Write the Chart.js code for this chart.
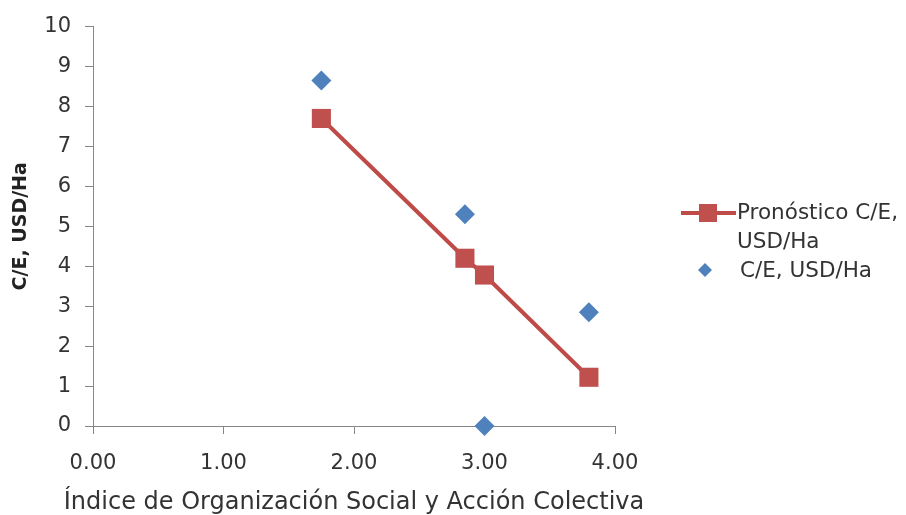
<!DOCTYPE html>
<html>
<head>
<meta charset="utf-8">
<script src="https://cdn.jsdelivr.net/npm/chart.js@4.4.1/dist/chart.umd.min.js"></script>
<style>
  body { margin: 0; background: #fff; }
  #wrap { width: 906px; height: 515px; }
</style>
</head>
<body>
<div id="wrap"><canvas id="can" width="906" height="515"></canvas></div>
<script>
// data
const idx = [1.75, 2.85, 3.0, 3.8];
const pronostico = [7.7, 4.2, 3.78, 1.22];
const observado = [8.65, 5.3, 0, 2.85];
const seriesNames = ["Pronóstico C/E, USD/Ha", "C/E, USD/Ha"];
const xTitle = "Índice de Organización Social y Acción Colectiva";
const yTitle = "C/E, USD/Ha";

const FONT = "'DejaVu Sans', sans-serif";
const red = "#BE4B48";
const redFill = "#C0504D";
const blue = "#4F81BD";
const axisCol = "#868686";
const textCol = "#333";

// legend + x title drawn by hand: the first label wraps, and the title is
// wider than the plot so chart.js would squeeze it
const sideLegend = {
  id: "sideLegend",
  afterDraw(chart) {
    const ctx = chart.ctx;
    ctx.save();
    ctx.textBaseline = "middle";
    ctx.font = "24px " + FONT;
    ctx.fillStyle = textCol;
    ctx.textAlign = "center";
    ctx.fillText(xTitle, 354, 503);
    ctx.textAlign = "left";
    ctx.font = "21.5px " + FONT;
    // line + square
    ctx.strokeStyle = red;
    ctx.lineWidth = 4;
    ctx.beginPath();
    ctx.moveTo(681, 213);
    ctx.lineTo(736, 213);
    ctx.stroke();
    ctx.fillStyle = redFill;
    ctx.fillRect(699, 204, 18, 18);
    ctx.fillStyle = textCol;
    ctx.fillText(seriesNames[0].split(" USD")[0], 737, 213);
    ctx.fillText("USD/Ha", 737, 242);
    // diamond
    ctx.fillStyle = blue;
    ctx.beginPath();
    ctx.moveTo(705, 263);
    ctx.lineTo(712, 270);
    ctx.lineTo(705, 277);
    ctx.lineTo(698, 270);
    ctx.closePath();
    ctx.fill();
    ctx.fillStyle = textCol;
    ctx.fillText(seriesNames[1], 740, 271);
    ctx.restore();
  }
};

const ctx = document.getElementById("can").getContext("2d");
new Chart(ctx, {
  type: "scatter",
  data: {
    datasets: [{
      label: seriesNames[0],
      data: idx.map((x, i) => ({ x: x, y: pronostico[i] })),
      showLine: true,
      borderColor: red,
      borderWidth: 4,
      backgroundColor: redFill,
      pointStyle: "rect",
      pointRadius: 13.5,
      pointBorderWidth: 0,
      pointHoverRadius: 13.5
    }, {
      label: seriesNames[1],
      data: idx.map((x, i) => ({ x: x, y: observado[i] })),
      backgroundColor: blue,
      borderColor: blue,
      pointStyle: "rectRot",
      pointRadius: 10,
      pointBorderWidth: 0
    }]
  },
  options: {
    responsive: false,
    animation: false,
    clip: false,
    layout: { padding: { left: 0, top: 24, right: 291, bottom: 0 } },
    plugins: {
      legend: { display: false },
      tooltip: { enabled: false }
    },
    scales: {
      x: {
        type: "linear",
        min: 0, max: 4,
        afterFit: s => { s.height = 89; },
        border: { color: axisCol, width: 1 },
        grid: { drawOnChartArea: false, drawTicks: true, tickLength: 8, color: axisCol },
        ticks: {
          stepSize: 1,
          padding: 17,
          color: textCol,
          font: { family: FONT, size: 21 },
          callback: v => v.toFixed(2)
        }
      },
      y: {
        min: 0, max: 10,
        afterFit: s => { s.width = 93; },
        border: { color: axisCol, width: 1 },
        grid: { drawOnChartArea: false, drawTicks: true, tickLength: 8, color: axisCol },
        ticks: {
          stepSize: 1,
          padding: 14,
          color: textCol,
          font: { family: FONT, size: 21 }
        },
        title: {
          display: true,
          text: yTitle,
          color: "#222",
          font: { family: FONT, size: 19, weight: "bold" },
          padding: { top: 10, bottom: 0 }
        }
      }
    }
  },
  plugins: [sideLegend]
});
</script>
</body>
</html>
